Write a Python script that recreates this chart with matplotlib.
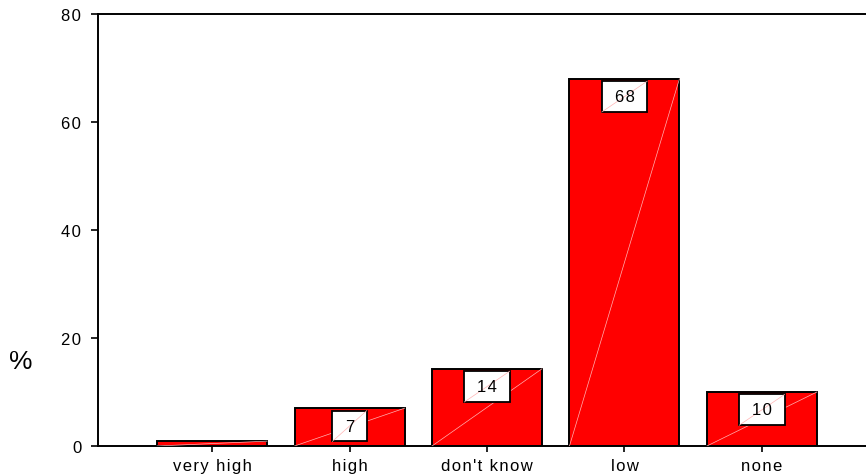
import matplotlib

matplotlib.use("Agg")
import matplotlib.pyplot as plt
from matplotlib.patches import Rectangle

plt.rcParams["font.family"] = ["Liberation Sans", "DejaVu Sans"]

categories = ["very high", "high", "don't know", "low", "none"]
values = [0.9, 7, 14.3, 68, 10]
labels = ["", "7", "14", "68", "10"]
yticks = [0, 20, 40, 60, 80]


def spaced(s):
    # loose tracking, the way the old stats package printed its labels
    return "\u200a".join(s)


fig = plt.figure(figsize=(8.66, 4.77), dpi=100)
ax = fig.add_axes([98 / 866, 30 / 477, 778 / 866, 432 / 477])

x = list(range(len(categories)))
width = 0.8
ax.bar(x, values, width=width, color="#ff0000", edgecolor="black",
       linewidth=1.4, zorder=2)

# faint diagonal sheen across each bar, plus the value box at the top
for xi, v, lab in zip(x, values, labels):
    ax.plot([xi - width / 2, xi + width / 2], [0, v], color="#ffb3b3",
            lw=0.5, zorder=3)
    if not lab:
        continue
    bw = 0.25 if len(lab) == 1 else 0.33
    bh = 5.7
    top = v - 0.45
    ax.add_patch(Rectangle((xi - bw / 2, top - bh), bw, bh, facecolor="white",
                           edgecolor="black", linewidth=1.3, zorder=4))
    ax.plot([xi - bw / 2, xi + bw / 2], [top - bh, top], color="#ffb3b3",
            lw=0.5, zorder=5)
    ax.text(xi, top - bh / 2, spaced(lab), ha="center", va="center",
            fontsize=12, zorder=6)

ax.set_xlim(-0.83, 4.83)
ax.set_ylim(0, 80)
ax.set_yticks(yticks)
ax.set_yticklabels([spaced(str(t)) for t in yticks], fontsize=12)
ax.set_xticks(x)
ax.set_xticklabels([spaced(c) for c in categories], fontsize=12)
ax.tick_params(axis="y", length=5, width=1.2, pad=7)
ax.tick_params(axis="x", length=4, width=1.2, pad=5)
for side in ["left", "bottom", "top"]:
    ax.spines[side].set_linewidth(1.4)
ax.spines["right"].set_visible(False)

fig.text(21 / 866, 1 - 362 / 477, "%", fontsize=19, ha="center", va="center")

fig.savefig("out.png", dpi=100)
